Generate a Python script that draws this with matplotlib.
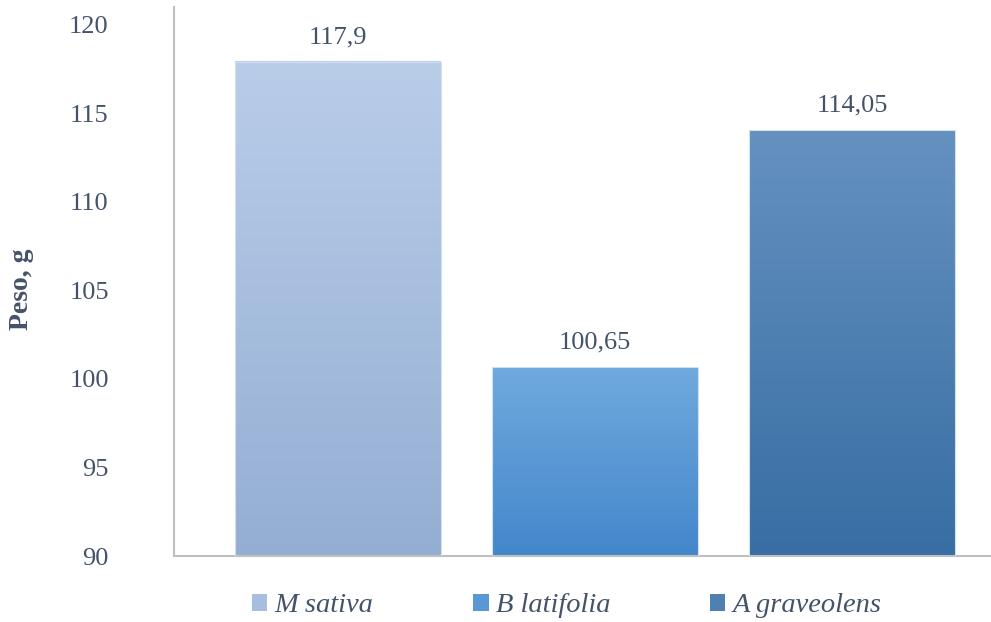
import numpy as np
import matplotlib
matplotlib.use("Agg")
from matplotlib import pyplot as plt
from matplotlib.colors import LinearSegmentedColormap
from matplotlib.patches import Rectangle

especies = ["M sativa", "B latifolia", "A graveolens"]
peso = [117.9, 100.65, 114.05]
etiquetas = ["117,9", "100,65", "114,05"]
yticks = [90, 95, 100, 105, 110, 115, 120]

# top / bottom colours of each bar gradient
grad_top = ["#b9cde9", "#70a9de", "#6591c0"]
grad_bot = ["#94aed3", "#4387cb", "#376ea3"]

plt.rcParams['font.family'] = ['Liberation Serif', 'DejaVu Serif']
txt_color = "#44536a"

fig = plt.figure(figsize=(9.91, 6.22), dpi=100)
ax = fig.add_axes([0.1756, 0.1061, 0.8244, 0.8826])

base = 90
width = 0.80
handles = []
for i, (sp, v) in enumerate(zip(especies, peso)):
    cmap = LinearSegmentedColormap.from_list("g%d" % i, [grad_bot[i], grad_top[i]])
    grad = np.linspace(0, 1, 256).reshape(-1, 1)
    x0, x1 = i - width / 2, i + width / 2
    ax.imshow(grad, cmap=cmap, origin="lower", aspect="auto",
              extent=(x0, x1, base, v), zorder=2, interpolation="bilinear")
    ax.add_patch(Rectangle((x0, base), width, v - base, fill=False,
                           edgecolor="#cfe0f2", linewidth=0.8, zorder=3))
    handles.append(Rectangle((0, 0), 1, 1, facecolor=cmap(0.5), edgecolor="none", label=sp))
    ax.annotate(etiquetas[i], (i, v), xytext=(0, 10), textcoords="offset points",
                ha="center", va="bottom", fontsize=19, color=txt_color)

ax.set_xlim(-0.638, 2.541)
ax.set_ylim(90, 121.0)
ax.set_yticks(yticks)
ax.set_yticklabels([str(t) for t in yticks])
ax.set_xticks([])
ax.tick_params(axis="y", length=0, pad=47, labelsize=19, labelcolor=txt_color)

for s in ["top", "right"]:
    ax.spines[s].set_visible(False)
for s in ["left", "bottom"]:
    ax.spines[s].set_color("#bfbfbf")
    ax.spines[s].set_linewidth(1.5)

fig.text(0.022, 0.535, "Peso, g", rotation=90, ha="center", va="center",
         fontsize=20, fontweight="bold", color=txt_color)

leg = fig.legend(handles=handles, loc="center", bbox_to_anchor=(0.5717, 0.026), ncol=3,
                 frameon=False, handlelength=0.55, handleheight=0.55,
                 handletextpad=0.25, columnspacing=3.5, labelcolor=txt_color,
                 prop={"style": "italic", "size": 20.5})

fig.savefig("out.png", dpi=100)
